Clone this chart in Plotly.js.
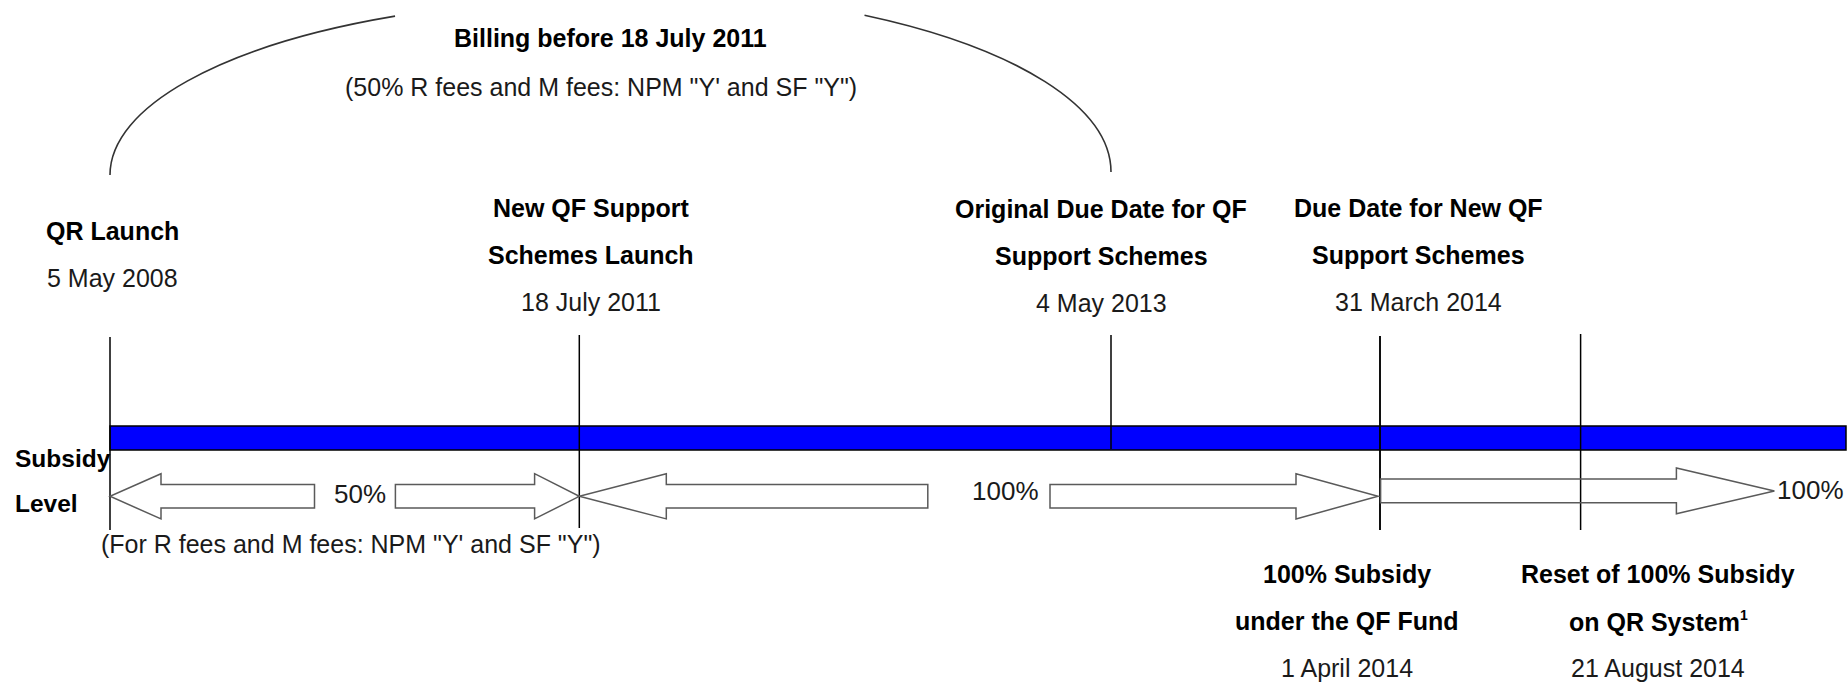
<!DOCTYPE html>
<html>
<head>
<meta charset="utf-8">
<script src="https://cdn.plot.ly/plotly-3.0.1.min.js"></script>
<style>
html, body { margin: 0; padding: 0; background: #ffffff; }
#chart { width: 1848px; height: 686px; }
</style>
</head>
<body>
<div id="chart"></div>
<script>
// ---------------- DATA ----------------
const eventTitles = [
  ['QR Launch'],
  ['New QF Support', 'Schemes Launch'],
  ['Original Due Date for QF', 'Support Schemes'],
  ['Due Date for New QF', 'Support Schemes'],
  ['100% Subsidy', 'under the QF Fund'],
  ['Reset of 100% Subsidy', 'on QR System<sup><span style="font-size:14px">1</span></sup>']
];
const eventDates = ['5 May 2008', '18 July 2011', '4 May 2013', '31 March 2014', '1 April 2014', '21 August 2014'];
const periodLevels = ['50%', '100%', '100%'];
const periodNote = '(For R fees and M fees: NPM "Y\' and SF "Y")';
const billingTitle = 'Billing before 18 July 2011';
const billingNote = '(50% R fees and M fees: NPM "Y\' and SF "Y")';
const axisLabel = ['Subsidy', 'Level'];

// ---------------- LAYOUT (positions / sizes / styles) ----------------
const W = 1848, H = 686;
const FONT = 'Liberation Sans, Arial, Helvetica, sans-serif';
const markerX      = [110, 579.3, 1111, 1380, 1380, 1580.6];
const markerTop    = [337, 335, 335, 336, 336, 334];
const markerBottom = [530, 528, 449, 530, 530, 530];
const labelX       = [112, 591, 1101, 1418, 1347, 1658];
const dateY        = [278, 302, 303, 302, 668, 668];
const lineGap = 47;
const barTop = 426, barBottom = 450, barRight = 1846;
const arrowRowY = [496.3, 496.3, 490.9];
const levelLabelPos = [[360, 494, 'center'], [1005, 491, 'center'], [1775, 490, 'left']];

const shapes = [];
const annotations = [];

function txt(x, y, text, size, bold, anchor, color) {
  annotations.push({
    x: x, y: y, xref: 'x', yref: 'y', showarrow: false,
    text: bold ? '<b>' + text + '</b>' : text,
    xanchor: anchor || 'center', yanchor: 'middle',
    font: { family: FONT, size: size, color: color || '#000000' }
  });
}

// Arc above "Billing before" (elliptical, split around the text)
function arcPath(cx, cy, rx, ry, a1, a2) {
  const t1 = a1 * Math.PI / 180, t2 = a2 * Math.PI / 180;
  const k = 4 / 3 * Math.tan((t2 - t1) / 4);
  const P = t => [cx + rx * Math.cos(t), cy - ry * Math.sin(t)];
  const D = t => [-rx * Math.sin(t), -ry * Math.cos(t)];
  const p0 = P(t1), p3 = P(t2), d1 = D(t1), d2 = D(t2);
  const p1 = [p0[0] + k * d1[0], p0[1] + k * d1[1]];
  const p2 = [p3[0] - k * d2[0], p3[1] - k * d2[1]];
  return 'M' + p0.join(',') + ' C' + p1.join(',') + ' ' + p2.join(',') + ' ' + p3.join(',');
}
const arcCx = (markerX[0] + markerX[2]) / 2, arcRx = (markerX[2] - markerX[0]) / 2;
// [startAngle, endAngle, centerY, radiusY]
[[180, 115.5, 175, 176], [59.5, 0, 172, 182]].forEach(a => {
  shapes.push({ type: 'path', xref: 'x', yref: 'y', path: arcPath(arcCx, a[2], arcRx, a[3], a[0], a[1]),
    line: { color: '#333333', width: 1.6 }, fillcolor: 'rgba(0,0,0,0)' });
});

// Timeline bar
shapes.push({ type: 'rect', xref: 'x', yref: 'y', x0: markerX[0], x1: barRight, y0: barTop, y1: barBottom,
  fillcolor: '#0000ff', line: { color: '#000000', width: 1.5 } });

// Event marker lines
markerX.forEach((x, i) => {
  shapes.push({ type: 'line', xref: 'x', yref: 'y', x0: x, x1: x, y0: markerTop[i], y1: markerBottom[i],
    line: { color: '#000000', width: 1.5 } });
});

// Block arrows
function blockArrow(tail, tip, yc, shaftHalf, headHalf, headLen) {
  const s = tip > tail ? 1 : -1;
  const hb = tip - s * headLen;
  const pts = [[tail, yc - shaftHalf], [hb, yc - shaftHalf], [hb, yc - headHalf], [tip, yc],
               [hb, yc + headHalf], [hb, yc + shaftHalf], [tail, yc + shaftHalf]];
  return 'M' + pts.map(p => p.join(',')).join(' L') + ' Z';
}
const arrowSpecs = [
  [314.5, markerX[0], arrowRowY[0], 11.7, 22.6, 51],
  [395.4, markerX[1], arrowRowY[0], 11.7, 22.6, 44.7],
  [927.8, markerX[1], arrowRowY[1], 11.7, 22.6, 87],
  [1050, markerX[3] - 2, arrowRowY[1], 11.7, 22.6, 82],
  [markerX[4] + 0.6, 1774.4, arrowRowY[2], 11.85, 22.85, 98]
];
arrowSpecs.forEach(a => {
  shapes.push({ type: 'path', xref: 'x', yref: 'y', path: blockArrow(...a),
    fillcolor: 'rgba(255,255,255,0)', line: { color: '#5a5a5a', width: 1.5 } });
});

// Event labels
eventTitles.forEach((lines, i) => {
  const n = lines.length;
  lines.forEach((t, j) => {
    txt(labelX[i], dateY[i] - (n - j) * lineGap, t, 25, true);
  });
  txt(labelX[i], dateY[i], eventDates[i], 25, false, 'center', '#1a1a1a');
});

// Billing text
txt(arcCx, 38, billingTitle, 25, true);
txt(601, 87, billingNote, 25, false, 'center', '#1a1a1a');

// Subsidy level labels
txt(13, 458, axisLabel[0], 24.5, true, 'left');
txt(13, 503, axisLabel[1], 24.5, true, 'left');
periodLevels.forEach((lv, i) => {
  const p = levelLabelPos[i];
  txt(p[0], p[1], lv, 26, false, p[2], '#1a1a1a');
});
txt(351, 544, periodNote, 25, false, 'center', '#1a1a1a');

const layout = {
  width: W, height: H,
  margin: { l: 0, r: 0, t: 0, b: 0, pad: 0 },
  paper_bgcolor: '#ffffff', plot_bgcolor: '#ffffff',
  showlegend: false,
  xaxis: { range: [0, W], visible: false, fixedrange: true },
  yaxis: { range: [H, 0], visible: false, fixedrange: true },
  shapes: shapes,
  annotations: annotations
};

Plotly.newPlot('chart', [], layout, { displayModeBar: false, staticPlot: true });
</script>
</body>
</html>
